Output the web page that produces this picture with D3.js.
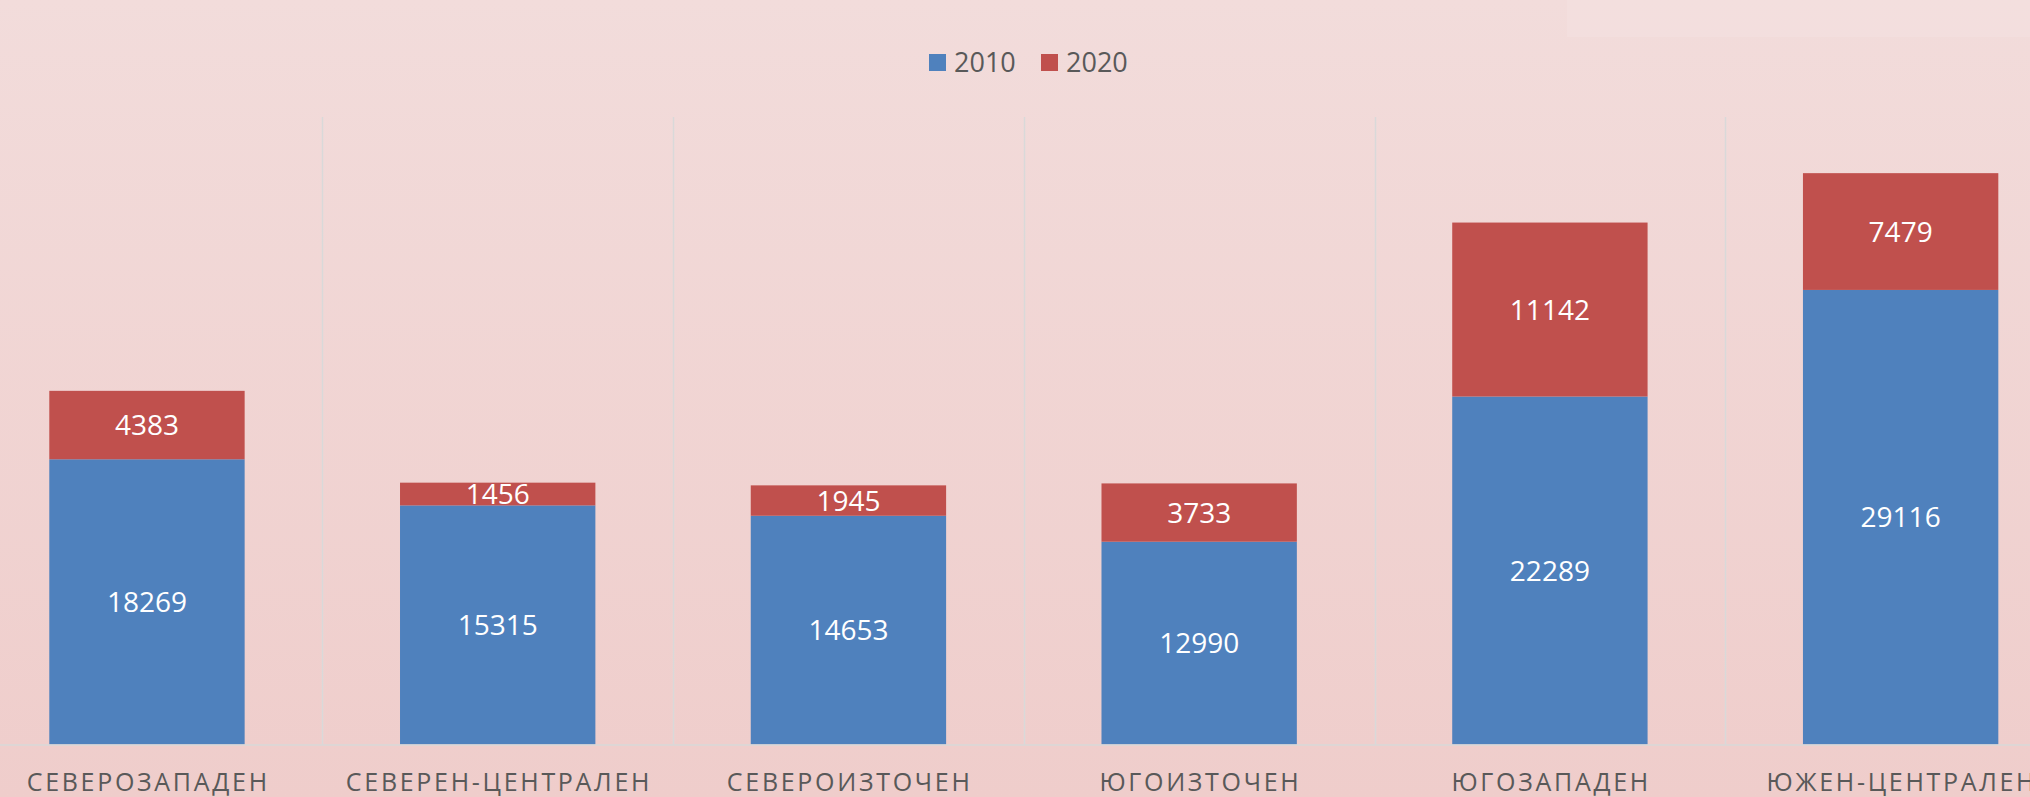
<!DOCTYPE html>
<html>
<head>
<meta charset="utf-8">
<script src="https://cdn.jsdelivr.net/npm/d3@7"></script>
<style>
  html, body { margin: 0; padding: 0; overflow: hidden; }
  svg { display: block; }
</style>
</head>
<body>
<div id="chart"></div>
<script>
// Data
const regions = ["СЕВЕРОЗАПАДЕН", "СЕВЕРЕН-ЦЕНТРАЛЕН", "СЕВЕРОИЗТОЧЕН", "ЮГОИЗТОЧЕН", "ЮГОЗАПАДЕН", "ЮЖЕН-ЦЕНТРАЛЕН"];
const seriesNames = ["2010", "2020"];
const values2010 = [18269, 15315, 14653, 12990, 22289, 29116];
const values2020 = [4383, 1456, 1945, 3733, 11142, 7479];

const W = 2030, H = 797;
const colors = d3.scaleOrdinal().domain(seriesNames).range(["#4f81bd", "#c0504d"]);

const svg = d3.select("#chart").append("svg")
  .attr("width", W)
  .attr("height", H);

// Background gradient
const defs = svg.append("defs");
const grad = defs.append("linearGradient")
  .attr("id", "bg")
  .attr("x1", 0).attr("y1", 0).attr("x2", 0).attr("y2", 1);
grad.append("stop").attr("offset", "0%").attr("stop-color", "#f2dcdb");
grad.append("stop").attr("offset", "100%").attr("stop-color", "#efcdcb");

svg.append("rect")
  .attr("width", W).attr("height", H)
  .attr("fill", "url(#bg)");

// faint lighter box in the top right corner
svg.append("rect")
  .attr("x", 1567).attr("y", 0)
  .attr("width", W - 1567).attr("height", 37)
  .attr("fill", "#f4e0df")
  .attr("opacity", 0.7);

// Scales
const x = d3.scaleBand()
  .domain(regions)
  .range([-28.4, 2076])
  .paddingInner(0.443)
  .paddingOuter(0.2215);

const y = d3.scaleLinear()
  .domain([0, 40000])
  .range([744.5, 120]);

// Category separators
const gap = (x.step() - x.bandwidth()) / 2;
svg.append("g")
  .selectAll("line")
  .data(regions.slice(1))
  .join("line")
    .attr("x1", d => Math.round(x(d) - gap) + 0.5)
    .attr("x2", d => Math.round(x(d) - gap) + 0.5)
    .attr("y1", 117)
    .attr("y2", y(0))
    .attr("stroke", "#d9d9d9")
    .attr("stroke-width", 1.5);

// Stack
const table = regions.map((r, i) => ({region: r, "2010": values2010[i], "2020": values2020[i]}));
const stacked = d3.stack().keys(seriesNames)(table);

const layers = svg.append("g")
  .selectAll("g")
  .data(stacked)
  .join("g")
    .attr("fill", d => colors(d.key));

layers.selectAll("rect")
  .data(d => d)
  .join("rect")
    .attr("x", d => x(d.data.region))
    .attr("y", d => y(d[1]))
    .attr("width", x.bandwidth())
    .attr("height", d => y(d[0]) - y(d[1]));

// Baseline
svg.append("line")
  .attr("x1", 0).attr("x2", W)
  .attr("y1", y(0) + 0.5).attr("y2", y(0) + 0.5)
  .attr("stroke", "#d9d9d9")
  .attr("stroke-width", 1.5);

// Data labels
layers.selectAll("text")
  .data(d => d)
  .join("text")
    .attr("x", d => x(d.data.region) + x.bandwidth() / 2)
    .attr("y", d => (y(d[0]) + y(d[1])) / 2)
    .attr("dy", "0.36em")
    .attr("text-anchor", "middle")
    .attr("fill", "#ffffff")
    .style("font-family", "'Open Sans', sans-serif")
    .style("font-size", "28px")
    .text(d => d[1] - d[0]);

// Category labels
svg.append("g")
  .selectAll("text")
  .data(regions)
  .join("text")
    .attr("x", d => x(d) + x.bandwidth() / 2 + 1.3)
    .attr("y", 791)
    .attr("text-anchor", "middle")
    .attr("fill", "#595959")
    .style("font-family", "'Open Sans', sans-serif")
    .style("font-size", "25px")
    .style("letter-spacing", "2.7px")
    .text(d => d);

// Legend
const legend = svg.append("g");
const legendX = [929, 1041];
const items = legend.selectAll("g")
  .data(seriesNames)
  .join("g")
    .attr("transform", (d, i) => `translate(${legendX[i]}, 54)`);

items.append("rect")
  .attr("width", 17)
  .attr("height", 17)
  .attr("fill", d => colors(d));

items.append("text")
  .attr("x", 25)
  .attr("y", 8.5)
  .attr("dy", "0.36em")
  .attr("fill", "#595959")
  .style("font-family", "'Open Sans', sans-serif")
  .style("font-size", "27px")
  .text(d => d);
</script>
</body>
</html>
